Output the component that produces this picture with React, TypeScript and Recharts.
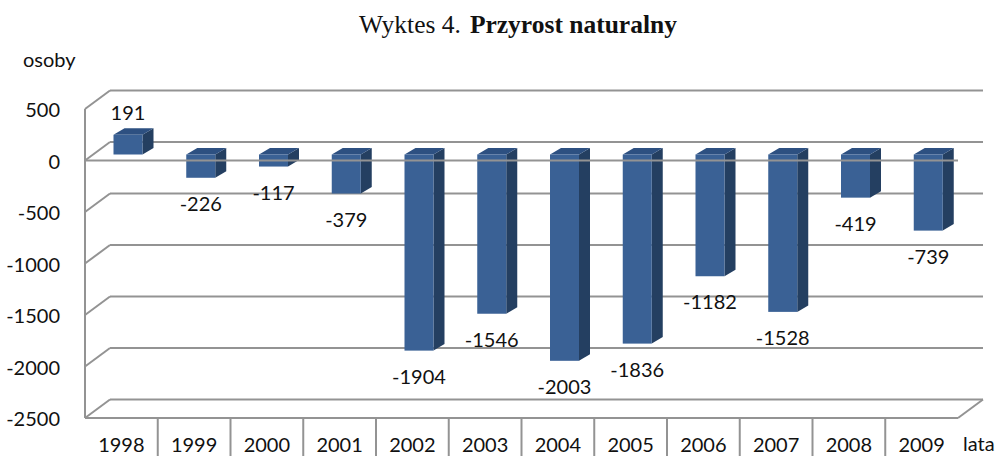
import React from 'react';
import { BarChart, Bar, XAxis, YAxis, CartesianGrid, ReferenceLine, LabelList } from 'recharts';

const years = ['1998', '1999', '2000', '2001', '2002', '2003', '2004', '2005', '2006', '2007', '2008', '2009'];
const values = [191, -226, -117, -379, -1904, -1546, -2003, -1836, -1182, -1528, -419, -739];
const yTicks = [500, 0, -500, -1000, -1500, -2000, -2500];

const data = years.map((year, i) => ({ year, value: values[i] }));

const WALL_DX = 25;
const WALL_DY = 18.5;
const BAR_SHIFT_X = 6.5;
const BAR_SHIFT_Y = 6;
const BAR_DX = 11;
const BAR_DY = 6.5;
const GRID = '#939393';
const FONT = "Lato, 'Open Sans', sans-serif";
const FS = 20;

const Bar3D = (props: any) => {
  const { x, y, width, height } = props;
  const top = Math.min(y, y + height) - BAR_SHIFT_Y;
  const bottom = Math.max(y, y + height) - BAR_SHIFT_Y;
  const left = x + BAR_SHIFT_X;
  const right = left + width;
  return (
    <g>
      <polygon
        points={`${right},${top} ${right + BAR_DX},${top - BAR_DY} ${right + BAR_DX},${bottom - BAR_DY} ${right},${bottom}`}
        fill="#243F61"
      />
      <polygon
        points={`${left},${top} ${right},${top} ${right + BAR_DX},${top - BAR_DY} ${left + BAR_DX},${top - BAR_DY}`}
        fill="#2D5081"
      />
      <rect x={left} y={top} width={width} height={bottom - top} fill="#3A6195" />
    </g>
  );
};

const renderLabel = (props: any) => {
  const vb = props.viewBox || {};
  const x = props.x ?? vb.x;
  const y = props.y ?? vb.y;
  const width = props.width ?? vb.width;
  const height = props.height ?? vb.height;
  const value = props.value;
  const cx = x + width / 2 + BAR_SHIFT_X;
  const top = Math.min(y, y + height) - BAR_SHIFT_Y;
  const bottom = Math.max(y, y + height) - BAR_SHIFT_Y;
  const ty = value >= 0 ? top - 22 : bottom + 26;
  return (
    <text x={cx} y={ty + 7} textAnchor="middle" fontFamily={FONT} fontSize={FS} fill="#111">
      {value}
    </text>
  );
};

const renderBackGrid = (props: any) => {
  const { x1, y1, x2, key } = props;
  return (
    <g key={key}>
      <line x1={x1 + WALL_DX} y1={y1 - WALL_DY} x2={x2 + WALL_DX} y2={y1 - WALL_DY} stroke={GRID} strokeWidth={2} />
      <line x1={x1} y1={y1} x2={x1 + WALL_DX} y2={y1 - WALL_DY} stroke={GRID} strokeWidth={2} />
    </g>
  );
};

const renderFloorFront = (props: any) => {
  const { x1, y1, x2, y2 } = props;
  return (
    <g>
      <line x1={x1} y1={y1} x2={x2} y2={y2} stroke={GRID} strokeWidth={2} />
      <line x1={x2} y1={y2} x2={x2 + WALL_DX} y2={y2 - WALL_DY} stroke={GRID} strokeWidth={2} />
    </g>
  );
};

const renderZeroFront = (props: any) => {
  const { x1, y1, x2, y2 } = props;
  return <line x1={x1} y1={y1} x2={x2} y2={y2} stroke={GRID} strokeWidth={2} />;
};

const YTick = (props: any) => {
  const { x, y, payload } = props;
  return (
    <text x={x} y={y + 8} textAnchor="end" fontFamily={FONT} fontSize={FS} fill="#111">
      {payload.value}
    </text>
  );
};

const XTick = (props: any) => {
  const { x, y, payload, index } = props;
  const half = payload && payload.offset ? payload.offset : 36.4;
  return (
    <g>
      {index > 0 && <line x1={x - half} y1={y} x2={x - half} y2={y + 40} stroke={GRID} strokeWidth={2} />}
      <text x={x} y={y + 34} textAnchor="middle" fontFamily={FONT} fontSize={FS} fill="#111">
        {payload.value}
      </text>
    </g>
  );
};

const renderLata = (props: any) => {
  const vb = props.viewBox || {};
  return (
    <text x={vb.x + vb.width + 5} y={vb.y + 33} fontFamily={FONT} fontSize={FS} fill="#111">
      lata
    </text>
  );
};

export default function App() {
  return (
    <div style={{ position: 'absolute', left: 0, top: 0, width: 998, height: 456, background: '#fff' }}>
      <BarChart
        width={998}
        height={456}
        data={data}
        margin={{ top: 109, right: 40, bottom: 0, left: 0 }}
      >
        <CartesianGrid vertical={false} horizontal={renderBackGrid} />
        <YAxis
          type="number"
          domain={[-2500, 500]}
          ticks={yTicks}
          width={85}
          tickLine={false}
          tickSize={0}
          tickMargin={25}
          axisLine={{ stroke: GRID, strokeWidth: 2 }}
          tick={<YTick />}
          interval={0}
        />
        <XAxis
          dataKey="year"
          height={38}
          axisLine={false}
          tickLine={false}
          tickSize={0}
          tickMargin={0}
          tick={<XTick />}
          interval={0}
          label={{ content: renderLata }}
        />
        <ReferenceLine y={-2500} shape={renderFloorFront} ifOverflow="visible" />
        <Bar dataKey="value" barSize={29} shape={<Bar3D />} isAnimationActive={false}>
          <LabelList dataKey="value" content={renderLabel} />
        </Bar>
        <ReferenceLine y={0} shape={renderZeroFront} ifOverflow="visible" />
      </BarChart>
      <svg
        width={998}
        height={100}
        style={{ position: 'absolute', left: 0, top: 0, pointerEvents: 'none' }}
      >
        <text x={518} y={33} textAnchor="middle" fontFamily="'Liberation Serif', 'Times New Roman', serif" fontSize={25.5} fill="#111">
          <tspan>Wyktes 4.</tspan>
          <tspan dx={9} fontWeight="bold">Przyrost naturalny</tspan>
        </text>
        <text x={23} y={67} fontFamily={FONT} fontSize={20} fill="#111">
          osoby
        </text>
      </svg>
    </div>
  );
}
